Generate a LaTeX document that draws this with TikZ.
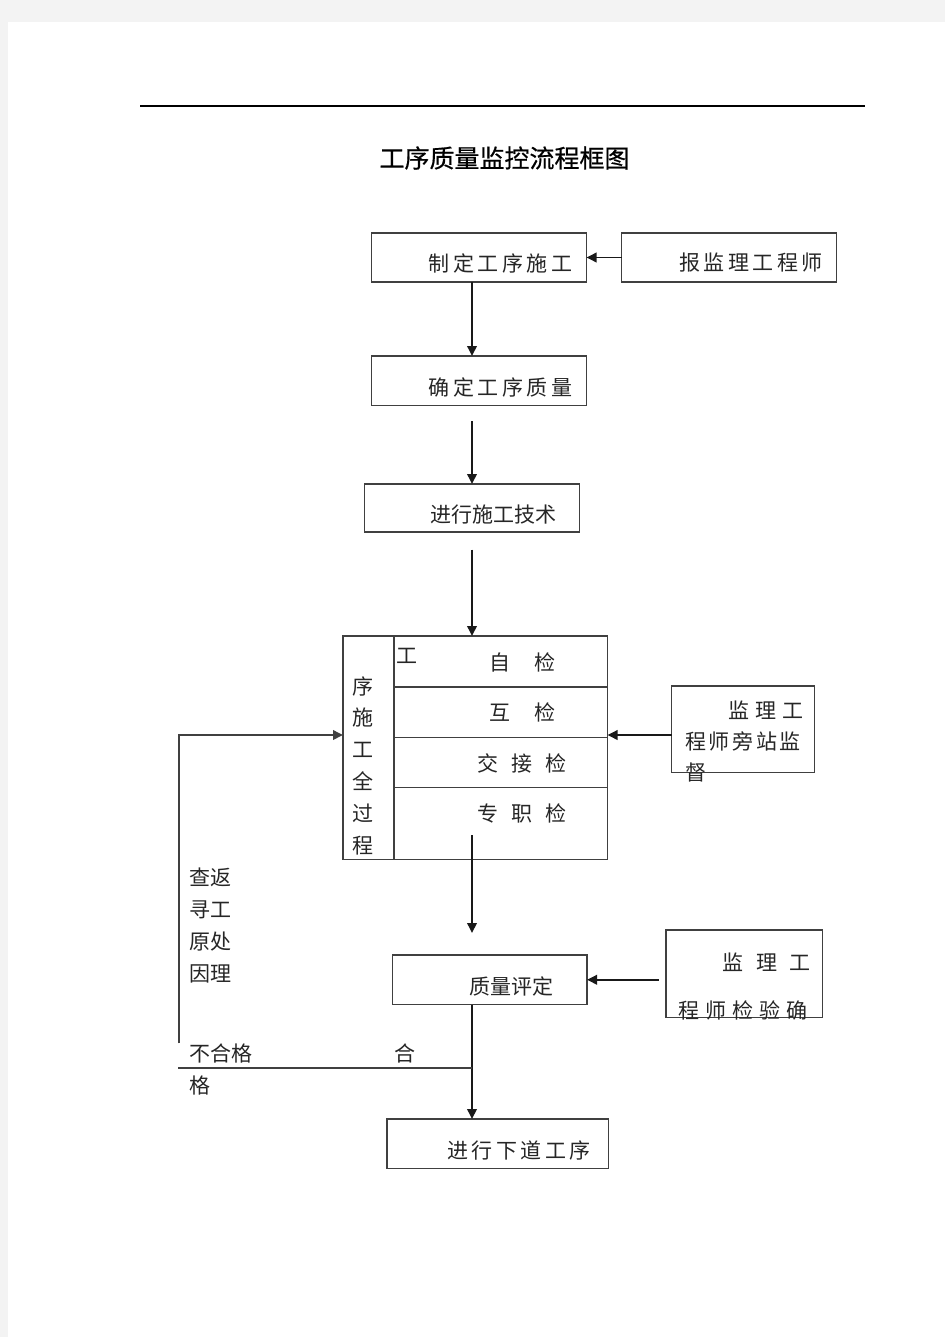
\documentclass[tikz,border=0pt]{standalone}
\usepackage{fontspec}
\setmainfont{Noto Sans CJK SC}
\newfontfamily\titlefont[FakeBold=0.6]{Noto Sans CJK SC}
\usetikzlibrary{arrows.meta}
\definecolor{pagegray}{HTML}{F3F3F3}
\definecolor{linegray}{HTML}{404040}
\definecolor{textgray}{HTML}{262626}
\newcommand\gp{\hspace{3.5pt}}
\tikzset{
  box/.style={draw=linegray, line width=1.2pt, rectangle, inner sep=0pt, outer sep=0pt},
  txt/.style={text=textgray, inner sep=0pt, font=\fontsize{21}{25}\selectfont},
  arr/.style={draw=black!90, line width=1.9pt, -{Triangle[length=10pt,width=9.5pt]}},
  thin/.style={draw=linegray, line width=1.6pt}
}
\begin{document}
\begin{tikzpicture}[x=1pt,y=-1pt]
    \useasboundingbox (0,0) rectangle (945,1337);
    % page
    \fill[pagegray] (0,0) rectangle (945,1337);
    \fill[white] (8,22) rectangle (945,1337);
    \draw[black, line width=1.3pt] (140,106) -- (865,106);
    \node[txt, text=black, font=\titlefont\fontsize{25}{30}\selectfont] (title) at (504.5,158) {工序质量监控流程框图};

    % Draw boxes
    \node[box, minimum width=215pt, minimum height=49pt] (plan) at (479,257.5) {};
    \node[box, minimum width=215pt, minimum height=49pt] (report) at (729,257.5) {};
    \node[box, minimum width=215pt, minimum height=49.5pt] (std) at (479,380.75) {};
    \node[box, minimum width=215pt, minimum height=48pt] (tech) at (472,508) {};
    \node[box, minimum width=51pt, minimum height=223.5pt] (procL) at (368.5,747.75) {};
    \node[box, minimum width=213.5pt, minimum height=51pt] (row1) at (500.75,661.5) {};
    \node[box, minimum width=213.5pt, minimum height=50.5pt] (row2) at (500.75,712.25) {};
    \node[box, minimum width=213.5pt, minimum height=50pt] (row3) at (500.75,762.5) {};
    \node[box, minimum width=213.5pt, minimum height=72pt] (row4) at (500.75,823.5) {};
    \node[box, minimum width=143pt, minimum height=86.5pt] (sup) at (743,729.25) {};
    \node[box, minimum width=194.5pt, minimum height=49.5pt] (assess) at (489.75,979.75) {};
    \node[box, minimum width=156.5pt, minimum height=87.5pt] (insp) at (744.25,973.75) {};
    \node[box, minimum width=221.5pt, minimum height=49.5pt] (next) at (497.75,1143.75) {};

    % Texts
    \node[txt] (tPlan) at (500.5,263) {制\gp 定\gp 工\gp 序\gp 施\gp 工};
    \node[txt] (tReport) at (751,263) {报\gp 监\gp 理\gp 工\gp 程\gp 师};
    \node[txt] (tStd) at (500.5,387) {确\gp 定\gp 工\gp 序\gp 质\gp 量};
    \node[txt] (tTech) at (493.5,515) {进行施工技术};
    \node[txt, align=center, font=\fontsize{21}{31.8}\selectfont] (tProc) at (363,765.5) {序\\施\\工\\全\\过\\程};
    \node[txt] (tGong) at (407,656) {工};
    \node[txt] (tSelf) at (522.5,662) {自\hspace{24pt}检};
    \node[txt] (tMutual) at (522.5,712) {互\hspace{24pt}检};
    \node[txt] (tHand) at (522,763) {交\hspace{13pt}接\hspace{13pt}检};
    \node[txt] (tSpec) at (522,813) {专\hspace{13pt}职\hspace{13pt}检};
    \node[txt, anchor=west, align=left, font=\fontsize{21}{31}\selectfont] (tSup) at (685,741.7)
        {\hspace*{43pt}监\hspace{6pt}理\hspace{6pt}工\\程\hspace{2.6pt}师\hspace{2.6pt}旁\hspace{2.6pt}站\hspace{2.6pt}监\\督};
    \node[txt] (tAssess) at (511.5,986) {质量评定};
    \node[txt, anchor=west, align=left, font=\fontsize{21}{48}\selectfont] (tInsp) at (678.5,986.7)
        {\hspace*{44pt}监\hspace{12.5pt}理\hspace{12.5pt}工\\程\hspace{6pt}师\hspace{6pt}检\hspace{6pt}验\hspace{6pt}确};
    \node[txt] (tNext) at (519,1150) {进\gp 行\gp 下\gp 道\gp 工\gp 序};
    \node[txt, anchor=west, align=left, font=\fontsize{21}{32}\selectfont] (tCause) at (189,925) {查返\\寻工\\原处\\因理};
    \node[txt, anchor=west] (tFail) at (189,1053) {不合格};
    \node[txt, anchor=west] (tFail2) at (189,1086) {格};
    \node[txt] (tPass) at (405,1053) {合};

    % Draw arrows
    \draw[arr] (report.west) -- (plan.east);
    \draw[arr] (plan.south -| tech.center) -- (std.north -| tech.center);
    \draw[arr] ([yshift=-15.5pt]std.south -| tech.center) -- (tech.north);
    \draw[arr] ([yshift=-17.5pt]tech.south) -- (tech.south |- row1.north);
    \draw[arr] ([yshift=-5.75pt]sup.west) -- ([yshift=-5.75pt]sup.west -| row2.east);
    \draw[arr] ([yshift=24.5pt]row4.south -| tech.center) -- ([yshift=22pt]assess.north -| tech.center);
    \draw[arr] ([xshift=-7.4pt]insp.west |- assess.east) -- (assess.east);
    \draw[arr] (assess.south -| tech.center) -- (next.north -| tech.center);

    % feedback
    \coordinate (back) at (179,1043.3);
    \coordinate (failEnd) at (178.4,1068);
    \draw[arr, draw=linegray] (back) |- ([yshift=12.75pt]procL.west);
    \draw[thin] (failEnd) -- (failEnd -| tech.center);
\end{tikzpicture}
\end{document}
